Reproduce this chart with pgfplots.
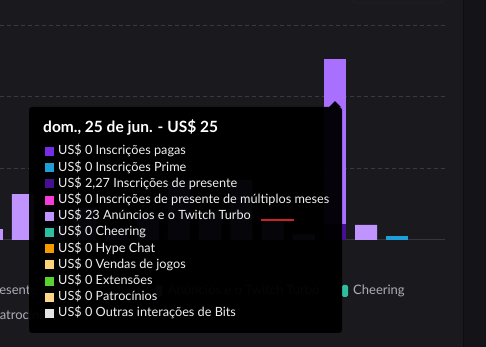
\documentclass[border=0pt]{standalone}
\usepackage{pgfplots}
\pgfplotsset{compat=1.18}
\usepackage{pgfplotstable}
\usepackage{fontspec}
\setmainfont{Lato}
\definecolor{bg}{HTML}{1A191E}
\definecolor{strip}{HTML}{141317}
\definecolor{stripline}{HTML}{0E0E10}
\definecolor{gridc}{HTML}{3A393F}
\definecolor{basec}{HTML}{36353B}
\definecolor{boxc}{HTML}{222126}
\definecolor{legc}{HTML}{ADADB8}
\definecolor{tipt}{HTML}{EFEFF1}
\definecolor{cpagas}{HTML}{772CE8}
\definecolor{cprime}{HTML}{1E9FD9}
\definecolor{cgift}{HTML}{451093}
\definecolor{cmulti}{HTML}{F53BD8}
\definecolor{cads}{HTML}{BF94FF}
\definecolor{cadsh}{HTML}{A970FF}
\definecolor{ccheer}{HTML}{2EBF9F}
\definecolor{chype}{HTML}{F59B00}
\definecolor{cgames}{HTML}{FFD37A}
\definecolor{cext}{HTML}{57D22E}
\definecolor{cspons}{HTML}{FFD58C}
\definecolor{cbits}{HTML}{E5E5E5}
\definecolor{cred}{HTML}{D0202A}

\pgfplotstableread{
x  pagas prime gift multi ads  adsh
-1 0     0     0    0     1.5  0
0  0     0     0    0     6.4  0
1  0     0     0    0     2.0  0
2  0     0     0    0     4.5  0
3  0     0     0    0     1.2  0
4  0     0     0    0     3.5  0
5  0     0     0    0     8.0  0
6  0     0     0    0     4.0  0
7  0     0     0    0     8.4  0
8  0     0     0    0     2.5  0
9  0     0     0    0     0.8  0
10 0     0     2.27 0     0    23
11 0     0     0    0     2.1  0
12 0     0.55  0    0     0    0
13 0     0     0    0     0    0
}\data

\begin{document}
\begin{tikzpicture}
\useasboundingbox (0,0) rectangle (486bp,347bp);
\clip (0,0) rectangle (486bp,347bp);
\fill[bg] (0,0) rectangle (486bp,347bp);
\begin{axis}[
  at={(0bp,107bp)}, anchor=south west,
  scale only axis, width=445bp, height=240bp,
  xmin=-0.737, xmax=13.526, ymin=0, ymax=33.49,
  ybar stacked, bar width=22bp,
  axis line style={draw=none},
  xtick=\empty, ytick={10,20,30}, yticklabels={},
  major tick length=0pt,
  ymajorgrids,
  grid style={dash pattern=on 4bp off 3bp, color=gridc, line width=0.8bp},
  extra y ticks={0}, extra y tick labels={},
  extra y tick style={grid style={solid, color=basec, line width=1bp}},
  every axis plot/.append style={draw=none},
]
\addplot[fill=cpagas] table[x=x,y=pagas]{\data};
\addplot[fill=cprime] table[x=x,y=prime]{\data};
\addplot[fill=cgift] table[x=x,y=gift]{\data};
\addplot[fill=cmulti] table[x=x,y=multi]{\data};
\addplot[fill=cads] table[x=x,y=ads]{\data};
\addplot[fill=cadsh] table[x=x,y=adsh]{\data};
\end{axis}
\begin{scope}[shift={(0,347bp)}, x=1bp, y=-1bp]
  % right panel strip
  \fill[strip] (463,0) rectangle (486,347);
  \draw[stripline, line width=1bp] (463.5,0) -- (463.5,347);
  % top box
  \draw[boxc, line width=0.8bp, rounded corners=3bp] (353,-10) rectangle (443,3);
  % legend (below chart)
  \begin{scope}[font=\fontsize{13bp}{15bp}\selectfont]
    \node[anchor=base east, text=legc, inner sep=0] at (37.5,295) {Inscrições de presente};
    \node[anchor=base west, text=legc, inner sep=0] at (-8,320) {Patrocínios};
    \fill[cads, rounded corners=1.5bp] (156,285) rectangle (162,297);
    \node[anchor=base west, text=legc, inner sep=0] at (168,295) {Anúncios e o Twitch Turbo};
    \fill[ccheer, rounded corners=1.5bp] (342,285) rectangle (348,297);
    \node[anchor=base west, text=legc, inner sep=0] at (353,295) {Cheering};
  \end{scope}
  % tooltip
  \fill[black, opacity=0.965, rounded corners=3bp] (29,107) rectangle (342,333);
  \fill[black, opacity=0.965] (329,107.2) -- (335,101) -- (341,107.2) -- cycle;
  \node[anchor=base west, text=white, inner sep=0, font=\fontsize{15.5bp}{18bp}\selectfont\bfseries] at (43,133) {dom., 25 de jun. - US\$ 25};
  \begin{scope}[font=\fontsize{12.7bp}{15bp}\selectfont]
    \foreach \i/\c/\t in {
      0/cpagas/{US\$ 0 Inscrições pagas},
      1/cprime/{US\$ 0 Inscrições Prime},
      2/cgift/{US\$ 2,27 Inscrições de presente},
      3/cmulti/{US\$ 0 Inscrições de presente de múltiplos meses},
      4/cads/{US\$ 23 Anúncios e o Twitch Turbo},
      5/ccheer/{US\$ 0 Cheering},
      6/chype/{US\$ 0 Hype Chat},
      7/cgames/{US\$ 0 Vendas de jogos},
      8/cext/{US\$ 0 Extensões},
      9/cspons/{US\$ 0 Patrocínios},
      10/cbits/{US\$ 0 Outras interações de Bits}}{
      \pgfmathsetmacro{\yy}{155+16.2*\i}
      \fill[\c] (45,\yy-8) rectangle (54,\yy+1);
      \node[anchor=base west, text=tipt, inner sep=0] at (58,\yy) {\t};
    }
  \end{scope}
  % red marker line
  \draw[cred, line width=2.5bp] (261,220) -- (294,220);
\end{scope}
\end{tikzpicture}
\end{document}
